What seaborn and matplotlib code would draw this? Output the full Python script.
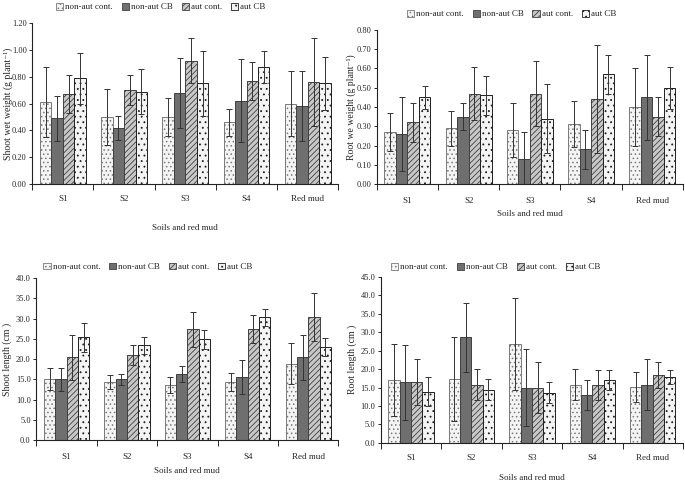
import numpy as np
import pandas as pd
import matplotlib
matplotlib.use("Agg")
import matplotlib.pyplot as plt
import seaborn as sns

# data
soils = ["S1", "S2", "S3", "S4", "Red mud"]
treatments = ["non-aut cont.", "non-aut CB", "aut cont.", "aut CB"]

# shoot wet weight (g plant-1): one list per treatment, values for S1..Red mud
sww_mean = [[0.61, 0.50, 0.50, 0.46, 0.60],
            [0.49, 0.42, 0.68, 0.62, 0.58],
            [0.67, 0.70, 0.92, 0.77, 0.76],
            [0.79, 0.69, 0.75, 0.87, 0.75]]
sww_err = [[0.26, 0.21, 0.14, 0.10, 0.24],
           [0.17, 0.09, 0.26, 0.31, 0.26],
           [0.14, 0.11, 0.17, 0.14, 0.33],
           [0.19, 0.17, 0.24, 0.12, 0.20]]

# root wet weight (g plant-1)
rww_mean = [[0.27, 0.29, 0.28, 0.31, 0.40],
            [0.26, 0.35, 0.13, 0.18, 0.45],
            [0.32, 0.47, 0.47, 0.44, 0.35],
            [0.45, 0.46, 0.34, 0.57, 0.50]]
rww_err = [[0.10, 0.09, 0.14, 0.12, 0.20],
           [0.19, 0.07, 0.14, 0.10, 0.22],
           [0.10, 0.14, 0.17, 0.28, 0.10],
           [0.06, 0.10, 0.18, 0.10, 0.11]]

# shoot length (cm)
sl_mean = [[15.0, 14.3, 13.7, 14.3, 18.9],
           [15.0, 15.0, 16.3, 15.6, 20.4],
           [20.4, 21.0, 27.4, 27.4, 30.4],
           [25.4, 23.4, 24.9, 30.3, 23.0]]
sl_err = [[2.7, 1.7, 2.0, 2.3, 5.1],
          [2.9, 1.4, 1.9, 4.3, 5.6],
          [5.6, 2.4, 4.3, 3.4, 6.0],
          [3.6, 2.1, 2.3, 2.0, 2.3]]

# root length (cm)
rl_mean = [[17.1, 17.4, 26.8, 15.8, 15.2],
           [16.4, 28.6, 15.0, 13.0, 15.8],
           [16.4, 15.8, 15.0, 15.6, 18.4],
           [13.9, 14.4, 13.6, 17.0, 17.8]]
rl_err = [[9.7, 11.4, 12.5, 4.2, 4.1],
          [10.2, 9.3, 10.5, 4.1, 6.9],
          [6.2, 4.1, 6.8, 4.1, 3.6],
          [4.0, 2.9, 2.8, 2.7, 1.9]]

sns.set_style("ticks")
plt.rcParams["font.family"] = ["Liberation Serif", "DejaVu Serif"]
plt.rcParams["hatch.linewidth"] = 0.6

fills = ["#f4f4f4", "#6f6f6f", "#c8c8c8", "#f4f4f4"]
hatches = ["....", None, "//////", "..."]
edges = ["#7a7a7a", "#404040", "#404040", "#202020"]

W, H = 685, 483
fig = plt.figure(figsize=(W / 100, H / 100), dpi=100)

# (mean, err, ylabel, ymax, step, fmt, rect, legend anchor,
#  tick pad, xlabel offset px, ylabel offset px)
panels = [
    (sww_mean, sww_err, "Shoot wet weight (g plant⁻¹)", 1.2, 0.2, "%.2f",
     [0.047, 0.619, 0.447, 0.333], (0.42, 1.04), 8, 40, 19),
    (rww_mean, rww_err, "Root we weight (g plant⁻¹)", 0.8, 0.1, "%.2f",
     [0.550, 0.619, 0.447, 0.319], (0.44, 1.04), 9, 26, 21),
    (sl_mean, sl_err, "Shoot length (cm )", 40, 5, "%.1f",
     [0.053, 0.089, 0.441, 0.335], (0.37, 1.01), 9, 27, 24),
    (rl_mean, rl_err, "Root length (cm )", 45, 5, "%.1f",
     [0.556, 0.083, 0.441, 0.344], (0.38, 1.0), 8, 31, 24),
]

for mean, err, ylab, ymax, ystep, fmt, rect, leg_pos, tpad, xl_off, yl_off in panels:
    ax = fig.add_axes(rect)
    df = pd.DataFrame({
        "soil": np.repeat([soils], 4, axis=0).ravel(),
        "treatment": np.repeat(treatments, len(soils)),
        "value": np.ravel(mean),
    })
    sns.barplot(data=df, x="soil", y="value", hue="treatment", order=soils,
                hue_order=treatments, palette=fills, width=0.75, errorbar=None,
                linewidth=0.7, ax=ax)
    bar_groups = list(ax.containers)
    for k, cont in enumerate(bar_groups):
        for j, p in enumerate(cont.patches):
            p.set_edgecolor(edges[k])
            if hatches[k]:
                p.set_hatch(hatches[k])
            ax.errorbar(p.get_x() + p.get_width() / 2, p.get_height(),
                        yerr=err[k][j], fmt="none", ecolor="#333333",
                        elinewidth=0.7, capsize=2.2, capthick=0.7)

    ax.set_xlim(-0.5, 4.5)
    ax.set_ylim(0, ymax)
    yt = np.arange(0, ymax + ystep / 2, ystep)
    ax.set_yticks(yt)
    ax.set_yticklabels([fmt % v for v in yt])
    ax.set_xticks(np.arange(-0.5, 5, 1), minor=True)
    ax.tick_params(axis="x", which="major", length=0, pad=tpad, labelsize=6.5)
    ax.tick_params(axis="x", which="minor", length=4, width=0.7, direction="out")
    ax.tick_params(axis="y", length=2.5, width=0.7, labelsize=6, pad=1.5)
    for s in ["left", "bottom"]:
        ax.spines[s].set_linewidth(0.8)
        ax.spines[s].set_color("#222222")
    sns.despine(ax=ax)
    ax.set_ylabel(ylab, fontsize=7)
    ax.set_xlabel("Soils and red mud", fontsize=6.5)
    ax.yaxis.set_label_coords(-yl_off / (rect[2] * W), 0.5)
    ax.xaxis.set_label_coords(0.5, -xl_off / (rect[3] * H))

    leg = ax.legend(ncol=4, frameon=False, loc="lower center", bbox_to_anchor=leg_pos,
                    fontsize=6.5, handlelength=0.8, handleheight=0.8,
                    handletextpad=0.2, columnspacing=1.0, borderaxespad=0.2)
    for k, h in enumerate(leg.legend_handles):
        h.set_edgecolor(edges[k])
        h.set_linewidth(0.6)
        if hatches[k]:
            h.set_hatch(hatches[k])

fig.savefig("out.png", dpi=100)
